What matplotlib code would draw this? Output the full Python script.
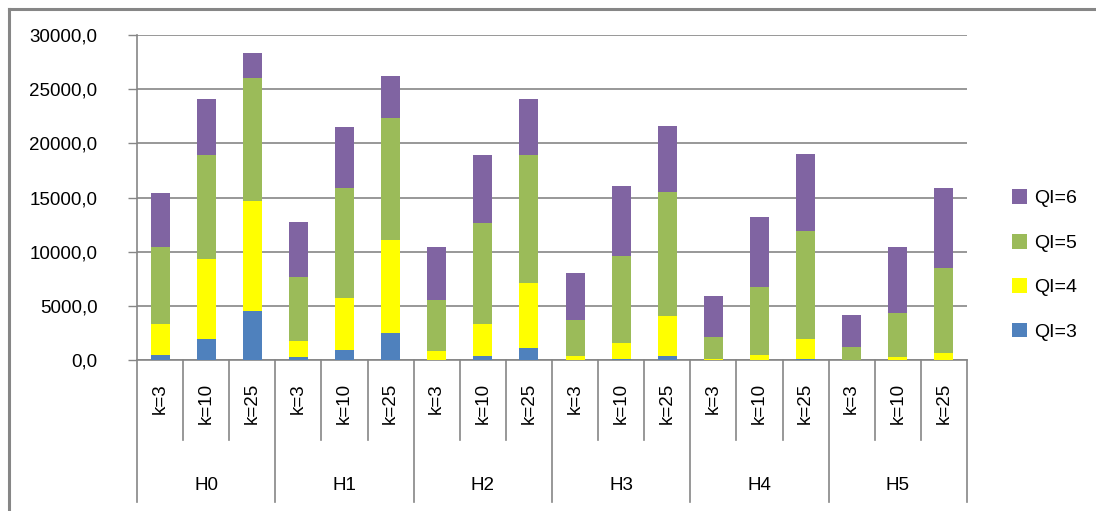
import matplotlib.pyplot as plt
import matplotlib.transforms as mtransforms
from matplotlib.lines import Line2D
import numpy as np

plt.rcParams['font.family'] = ['Liberation Sans', 'DejaVu Sans']

#groups and k values for the two-level x axis
groups = ['H0', 'H1', 'H2', 'H3', 'H4', 'H5']
k_labels = ['k=3', 'k=10', 'k=25']

#stacked values per bar (H0 k=3, H0 k=10, H0 k=25, H1 k=3, ...)
qi3 = [460, 1940, 4520, 280, 920, 2490,
       0, 370, 1110, 0, 90, 370,
       0, 0, 90, 0, 0, 0]
qi4 = [2860, 7380, 10150, 1480, 4800, 8590,
       830, 2950, 6000, 370, 1480, 3690,
       90, 460, 1850, 0, 280, 650]
qi5 = [7110, 9600, 11350, 5910, 10150, 11260,
       4710, 9320, 11810, 3320, 8030, 11450,
       2030, 6280, 9970, 1200, 4060, 7850]
qi6 = [4990, 5170, 2310, 5080, 5630, 3880,
       4890, 6280, 5170, 4340, 6460, 6090,
       3790, 6460, 7110, 2950, 6090, 7380]

series = [('QI=3', qi3, '#4F81BD'), ('QI=4', qi4, '#FFFF00'),
          ('QI=5', qi5, '#9BBB59'), ('QI=6', qi6, '#8064A2')]

grey = '#868686'
n = len(groups) * len(k_labels)
x = np.arange(n)

fig = plt.figure(figsize=(10.96, 5.11), dpi=100)
ax = fig.add_axes([137 / 1096, 151 / 511, 830 / 1096, 325 / 511])

bottom = np.zeros(n)
handles = []
for name, vals, color in series:
    b = ax.bar(x, vals, width=0.41, bottom=bottom, color=color, label=name, zorder=3)
    handles.append(b)
    bottom += np.array(vals)

ax.set_xlim(-0.5, n - 0.5)
ax.set_ylim(0, 30000)
ax.set_yticks(np.arange(0, 30001, 5000))
ax.set_yticklabels([f'{v},0' for v in range(0, 30001, 5000)], fontsize=13.5)
ax.yaxis.grid(True, color=grey, linewidth=1.2, zorder=0)
ax.tick_params(axis='y', length=6.5, width=1, color=grey, pad=22)
ax.set_xticks([])
for side in ['top', 'right']:
    ax.spines[side].set_visible(False)
for side in ['left', 'bottom']:
    ax.spines[side].set_color(grey)
    ax.spines[side].set_linewidth(1.2)

#two-level category labels under the axis
trans = mtransforms.blended_transform_factory(ax.transData, ax.transAxes)
low1 = -80 / 325
low2 = -142 / 325
for i in range(n + 1):
    y0 = low2 if i % 3 == 0 else low1
    ax.add_line(Line2D([i - 0.5, i - 0.5], [0, y0], transform=trans,
                       color=grey, linewidth=1.2, clip_on=False))
for i in range(n):
    ax.text(i, -23 / 325, k_labels[i % 3], transform=trans, rotation=90,
            ha='center', va='top', fontsize=13.5)
for g, name in enumerate(groups):
    ax.text(g * 3 + 1, -125 / 325, name, transform=trans,
            ha='center', va='center', fontsize=13.5)

fig.legend(handles[::-1], [s[0] for s in series][::-1], loc='center left',
           bbox_to_anchor=(994 / 1096, 246 / 511), frameon=False, fontsize=14,
           handlelength=0.8, handleheight=0.8, handletextpad=0.35, labelspacing=1.35)

#outer chart border (only left and top show)
fig.add_artist(Line2D([9 / 1096, 9 / 1096], [0, 1 - 9 / 511], color=grey, linewidth=2.2))
fig.add_artist(Line2D([9 / 1096, 1], [1 - 9 / 511, 1 - 9 / 511], color=grey, linewidth=2.2))

fig.savefig('out.png', dpi=100)
